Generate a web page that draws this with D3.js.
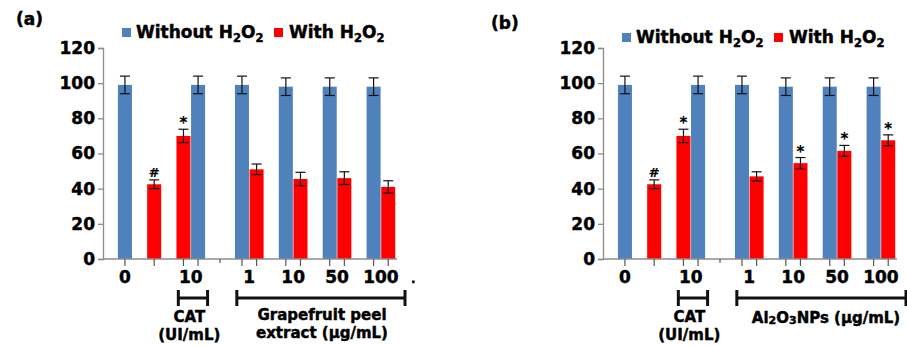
<!DOCTYPE html>
<html>
<head>
<meta charset="utf-8">
<script src="https://cdn.jsdelivr.net/npm/d3@7"></script>
<style>
  html, body { margin: 0; padding: 0; background: #fff; }
  svg { display: block; }
  text { font-family: "DejaVu Sans", Verdana, sans-serif; font-weight: bold; fill: #000; stroke: #000; stroke-width: 0.45px; }
</style>
</head>
<body>
<svg id="chart" width="907" height="347"></svg>
<script>
// Cell viability (%) with and without H2O2 exposure
const doseLabels   = ["0", "10", "1", "10", "50", "100"];
const withoutH2O2  = [99, 99, 99, 98, 98, 98];
const withoutErr   = [5, 5, 5, 5, 5, 5];

// (a) grapefruit peel extract
const withH2O2A    = [42.5, 70, 51, 45.5, 46, 41];
const withErrA     = [2.5, 3.8, 3, 3.8, 3.6, 3.5];
const marksA       = ["#", "*", "", "", "", ""];

// (b) Al2O3 nanoparticles
const withH2O2B    = [42.5, 70, 47, 54.5, 61.5, 67.5];
const withErrB     = [2.5, 3.8, 2.6, 3.2, 3.1, 3.1];
const marksB       = ["#", "*", "", "*", "*", "*"];

const yTicks = [0, 20, 40, 60, 80, 100, 120];

const BLUE = "#4F81BD", RED = "#FF0000", AXIS = "#8C8C8C";

const svg = d3.select("#chart");

// slot positions: control group (blue, gap, red), CAT group (red, blue),
// then treatment groups as adjacent blue/red pairs
function slotsFor(i) {
  if (i === 0) return { blue: 0, red: 2, label: 0 };
  if (i === 1) return { blue: 5, red: 4, label: 4.5 };
  const b = 8 + 3 * (i - 2);
  return { blue: b, red: b + 1, label: b + 0.5 };
}

function addH2O2(t, prefix, size) {
  t.append("tspan").text(prefix + "H");
  t.append("tspan").attr("font-size", size * 0.68).attr("dy", 4).text("2");
  t.append("tspan").attr("dy", -4).text("O");
  t.append("tspan").attr("font-size", size * 0.68).attr("dy", 4).text("2");
}

function drawPanel(p) {
  const g = svg.append("g").attr("transform", `translate(${p.dx},0)`);

  const x = d3.scaleLinear().domain([-1.5, 18.6]).range([103, 397]);
  const unit = x(1) - x(0);
  const y = d3.scaleLinear().domain([0, 120]).range([259, 48]);

  // y axis
  const yAxis = g.append("g").attr("transform", `translate(${x(-1.5)},0)`)
    .call(d3.axisLeft(y).tickValues(yTicks).tickSize(5).tickPadding(3).tickFormat(d3.format("d")));
  yAxis.select(".domain").attr("stroke", AXIS).attr("stroke-width", 1.3);
  yAxis.selectAll(".tick line").attr("stroke", AXIS).attr("stroke-width", 1.3);
  yAxis.selectAll(".tick text").attr("font-size", 17).attr("font-family", "DejaVu Sans")
    .attr("font-weight", "bold").attr("fill", "#000");

  // bars
  const bars = [];
  doseLabels.forEach((lab, i) => {
    const s = slotsFor(i);
    bars.push({ slot: s.blue, v: withoutH2O2[i], e: withoutErr[i], c: BLUE, m: "" });
    bars.push({ slot: s.red, v: p.red[i], e: p.err[i], c: RED, m: p.marks[i] });
  });

  g.selectAll("rect.bar").data(bars).enter().append("rect")
    .attr("class", "bar")
    .attr("x", d => x(d.slot) - unit / 2 + 0.3)
    .attr("width", unit - 0.6)
    .attr("y", d => y(d.v))
    .attr("height", d => y(0) - y(d.v))
    .attr("fill", d => d.c);

  // x axis line with ticks at bar centres and one in the gap
  g.append("line").attr("x1", x(-1.5)).attr("x2", x(18.6))
    .attr("y1", y(0)).attr("y2", y(0)).attr("stroke", AXIS).attr("stroke-width", 1.3);
  const tickSlots = bars.map(d => d.slot).concat([6.5]);
  g.selectAll("line.xt").data(tickSlots).enter().append("line")
    .attr("x1", d => x(d)).attr("x2", d => x(d))
    .attr("y1", y(0)).attr("y2", d => d === 6.5 ? y(0) + 4 : y(0) + 7)
    .attr("stroke", "#555").attr("stroke-width", 1.2);

  // error bars
  const eb = g.selectAll("g.err").data(bars).enter().append("g").attr("class", "err");
  eb.append("line").attr("x1", d => x(d.slot)).attr("x2", d => x(d.slot))
    .attr("y1", d => y(d.v + d.e)).attr("y2", d => y(d.v - d.e));
  eb.append("line").attr("x1", d => x(d.slot) - 5).attr("x2", d => x(d.slot) + 5)
    .attr("y1", d => y(d.v + d.e)).attr("y2", d => y(d.v + d.e));
  eb.append("line").attr("x1", d => x(d.slot) - 5).attr("x2", d => x(d.slot) + 5)
    .attr("y1", d => y(d.v - d.e)).attr("y2", d => y(d.v - d.e));
  eb.selectAll("line").attr("stroke", "#111").attr("stroke-width", 1.2);

  // significance marks
  g.selectAll("text.mark").data(bars.filter(d => d.m)).enter().append("text")
    .attr("class", "mark")
    .attr("x", d => x(d.slot))
    .attr("y", d => y(d.v + d.e) - (d.m === "*" ? 1 : 3))
    .attr("text-anchor", "middle")
    .attr("font-size", d => d.m === "*" ? 15 : 13)
    .style("stroke-width", "0.2px")
    .text(d => d.m);

  // category labels
  g.selectAll("text.cat").data(doseLabels).enter().append("text")
    .attr("class", "cat")
    .attr("x", (d, i) => x(slotsFor(i).label))
    .attr("y", 283)
    .attr("text-anchor", "middle")
    .attr("font-size", 17)
    .text(d => d);

  // group brackets
  function bracket(x1, x2) {
    const by = 298;
    g.append("path")
      .attr("d", `M${x1},${by - 8}V${by + 8}M${x1},${by}H${x2}M${x2},${by - 8}V${by + 8}`)
      .attr("fill", "none").attr("stroke", "#111").attr("stroke-width", 3);
  }
  bracket(x(4) - unit * 0.35, x(5) + unit * 0.65);
  bracket(x(8) - unit * 0.35, p.bracketEnd);

  g.append("text").attr("x", x(4.4)).attr("y", 322).attr("text-anchor", "middle")
    .attr("font-size", 15).text("CAT");
  g.append("text").attr("x", x(4.4)).attr("y", 340).attr("text-anchor", "middle")
    .attr("font-size", 15).text("(UI/mL)");

  p.groupText(g, x);

  // panel letter
  g.append("text").attr("x", p.letterX).attr("y", p.letterY).attr("font-size", 17).text(p.letter);

  // legend
  const ly = p.legendY;
  g.append("rect").attr("x", 122).attr("y", ly - 10).attr("width", 9).attr("height", 9).attr("fill", BLUE);
  const t1 = g.append("text").attr("x", 136).attr("y", ly).attr("font-size", 17);
  addH2O2(t1, "Without ", 17);
  g.append("rect").attr("x", 274).attr("y", ly - 10).attr("width", 9).attr("height", 9).attr("fill", RED);
  const t2 = g.append("text").attr("x", 289).attr("y", ly).attr("font-size", 17);
  addH2O2(t2, "With ", 17);
}

drawPanel({
  dx: 0, red: withH2O2A, err: withErrA, marks: marksA,
  letter: "(a)", letterX: 16, letterY: 25, legendY: 38,
  bracketEnd: 405,
  groupText: (g, x) => {
    g.append("text").attr("x", 322).attr("y", 320).attr("text-anchor", "middle")
      .attr("font-size", 15).text("Grapefruit peel");
    g.append("text").attr("x", 322).attr("y", 338).attr("text-anchor", "middle")
      .attr("font-size", 15).text("extract (μg/mL)");
    g.append("text").attr("x", 411).attr("y", 283).attr("font-size", 12).text(".");
  }
});

drawPanel({
  dx: 500, red: withH2O2B, err: withErrB, marks: marksB,
  letter: "(b)", letterX: -9, letterY: 29, legendY: 43,
  bracketEnd: 406,
  groupText: (g, x) => {
    const t = g.append("text").attr("x", 326).attr("y", 323).attr("text-anchor", "middle")
      .attr("font-size", 15);
    t.append("tspan").text("Al");
    t.append("tspan").attr("font-size", 11).attr("dy", 1).text("2");
    t.append("tspan").attr("dy", -1).text("O");
    t.append("tspan").attr("font-size", 11).attr("dy", 1).text("3");
    t.append("tspan").attr("dy", -1).text("NPs (μg/mL)");
  }
});
</script>
</body>
</html>
